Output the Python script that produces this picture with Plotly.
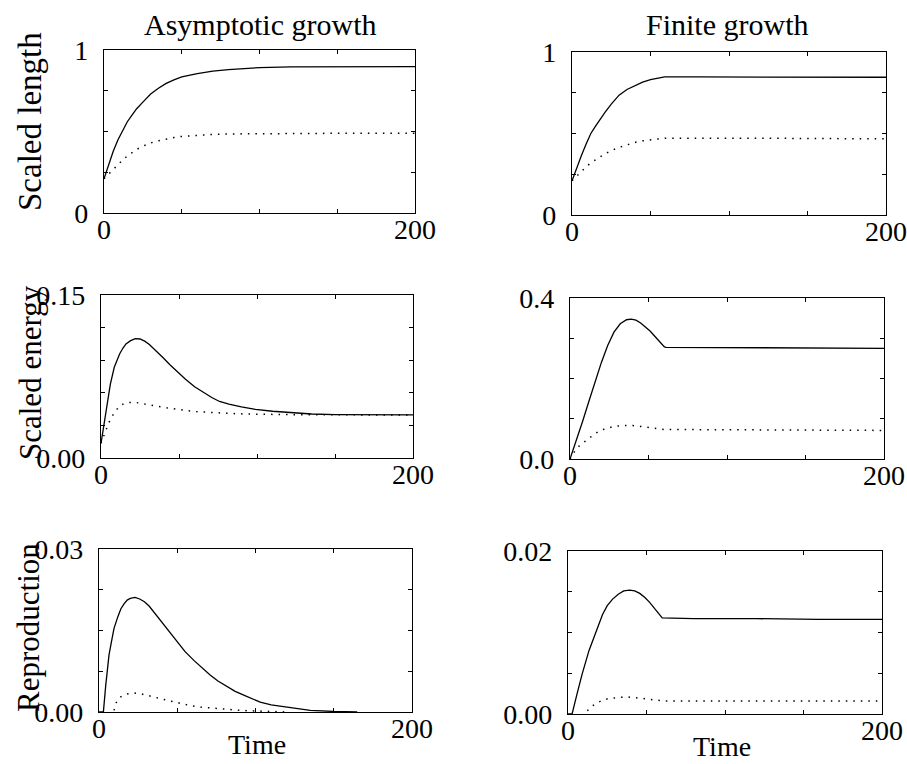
import plotly.graph_objects as go

# ---------------- data ----------------
# Row 1: Scaled length
t_len_asym = [0, 3, 6, 9, 12, 15, 18, 21, 25, 30, 35, 40, 45, 50, 60, 70, 80, 90, 100, 120, 150, 200]
len_asym_solid = [0.21, 0.30, 0.38, 0.45, 0.51, 0.56, 0.60, 0.64, 0.68, 0.73, 0.765, 0.795, 0.817, 0.835,
                  0.855, 0.870, 0.880, 0.887, 0.892, 0.896, 0.898, 0.898]
t_len_asym_dot = [0, 3, 6, 9, 12, 15, 18, 21, 25, 30, 35, 40, 45, 50, 60, 70, 80, 100, 120, 150, 200]
len_asym_dot = [0.21, 0.24, 0.27, 0.30, 0.325, 0.35, 0.37, 0.39, 0.41, 0.43, 0.443, 0.455, 0.463, 0.47,
                0.477, 0.482, 0.485, 0.487, 0.488, 0.489, 0.489]

t_len_fin = [0, 3, 6, 9, 12, 15, 18, 21, 25, 30, 35, 40, 45, 50, 55, 59, 80, 120, 160, 200]
len_fin_solid = [0.21, 0.29, 0.365, 0.435, 0.50, 0.545, 0.59, 0.63, 0.68, 0.735, 0.77, 0.795, 0.815, 0.83,
                 0.84, 0.847, 0.847, 0.846, 0.846, 0.845]
t_len_fin_dot = [0, 3, 6, 9, 12, 15, 18, 21, 25, 30, 35, 40, 45, 50, 55, 60, 80, 120, 160, 200]
len_fin_dot = [0.21, 0.24, 0.27, 0.295, 0.32, 0.34, 0.36, 0.375, 0.395, 0.415, 0.43, 0.445, 0.455, 0.462,
               0.467, 0.471, 0.472, 0.471, 0.469, 0.467]

# Row 2: Scaled energy
t_en_asym = [0, 2, 4, 6, 8.5, 10, 12, 14, 16, 19, 22, 25, 28, 31, 34, 37, 40, 44, 48, 54, 60, 65, 71, 76,
             82, 90, 99, 110, 120, 135, 150, 175, 200]
en_asym_solid = [0.0135, 0.031, 0.051, 0.068, 0.0835, 0.089, 0.096, 0.101, 0.105, 0.108, 0.1098, 0.1095,
                 0.1075, 0.1045, 0.1005, 0.0965, 0.092, 0.086, 0.0804, 0.0727, 0.0655, 0.061, 0.0557, 0.052,
                 0.0495, 0.047, 0.0448, 0.043, 0.0418, 0.0405, 0.0400, 0.0397, 0.0396]
t_en_asym_dot = [0, 2, 5, 8.5, 12, 15, 18, 22, 28, 35, 42, 48, 55, 61, 70, 82, 95, 110, 130, 160, 200]
en_asym_dot = [0.0135, 0.0216, 0.0325, 0.0418, 0.048, 0.0502, 0.051, 0.0512, 0.050, 0.048, 0.0463, 0.0448,
               0.0436, 0.0427, 0.0418, 0.041, 0.0404, 0.040, 0.0398, 0.0397, 0.0396]

t_en_fin = [0, 4, 8, 12, 16, 20, 24, 28, 32, 36, 39, 42, 45, 48, 51, 54, 57, 60, 61, 80, 120, 160, 200]
en_fin_solid = [0.0, 0.045, 0.093, 0.143, 0.192, 0.24, 0.282, 0.315, 0.336, 0.346, 0.3475, 0.345, 0.338,
                0.329, 0.318, 0.305, 0.291, 0.279, 0.2775, 0.277, 0.2765, 0.276, 0.275]
t_en_fin_dot = [0, 3.3, 6, 10, 13, 16, 20, 24, 28, 34, 40, 45, 50, 55, 60, 80, 120, 160, 200]
en_fin_dot = [0.0, 0.021, 0.033, 0.045, 0.055, 0.063, 0.072, 0.077, 0.081, 0.083, 0.083, 0.081, 0.078,
              0.075, 0.073, 0.073, 0.072, 0.072, 0.071]

# Row 3: Reproduction
t_rep_asym = [0, 2.8, 4.3, 5.5, 6.4, 8, 9.6, 12, 14, 16, 18, 20, 23, 26, 29, 32, 35, 38, 41.5, 45, 50, 55,
              60.6, 66, 71, 76, 82, 87, 92.5, 98, 103, 110, 120, 135, 150, 165]
rep_asym_solid = [0.0, 0.0, 0.0049, 0.0085, 0.0105, 0.013, 0.0154, 0.0175, 0.019, 0.0199, 0.0206, 0.0209,
                  0.0211, 0.0208, 0.0203, 0.0195, 0.0184, 0.0173, 0.016, 0.0147, 0.0129, 0.0111, 0.0095,
                  0.008, 0.0068, 0.0057, 0.0046, 0.0038, 0.0031, 0.0024, 0.0018, 0.0013, 0.0009, 0.0003,
                  0.0001, 0.0]
t_rep_asym_dot = [9.6, 11, 12.5, 15, 18, 22, 26, 31, 36, 41.5, 47, 52, 58, 65, 73, 82, 90, 99, 120]
rep_asym_dot = [0.0003, 0.0017, 0.0025, 0.003, 0.0033, 0.0035, 0.0034, 0.0031, 0.0027, 0.0023, 0.0019,
                0.0015, 0.0012, 0.0009, 0.0007, 0.0005, 0.0003, 0.0002, 0.0]

t_rep_fin = [0, 2.6, 5.8, 9, 13.4, 17.7, 22, 25, 28.4, 32, 35.5, 39.2, 42.5, 45.7, 49, 52, 56.5, 60, 80,
             120, 160, 200]
rep_fin_solid = [0.0, 0.0, 0.0025, 0.0049, 0.0078, 0.0101, 0.0122, 0.0133, 0.0141, 0.0147, 0.0151, 0.0152,
                 0.0151, 0.0148, 0.0143, 0.0137, 0.0127, 0.0118, 0.0117, 0.0117, 0.0116, 0.0116]
t_rep_fin_dot = [12.3, 15.5, 19, 22, 26, 31, 37, 43, 48, 54, 61, 80, 120, 160, 200]
rep_fin_dot = [0.0004, 0.001, 0.0014, 0.0017, 0.0019, 0.002, 0.0021, 0.002, 0.0019, 0.0017, 0.0016,
               0.0016, 0.0016, 0.0016, 0.0016]

x_ticks = [0, 50, 100, 150, 200]
x_ticktext = ["0", "", "", "", "200"]

y_ticks = {
    "len": ([0, 0.25, 0.5, 0.75, 1.0], ["0", "", "", "", "1"], [0, 1]),
    "en_a": ([0, 0.03, 0.06, 0.09, 0.12, 0.15], ["0.00", "", "", "", "", "0.15"], [0, 0.15]),
    "en_f": ([0, 0.1, 0.2, 0.3, 0.4], ["0.0", "", "", "", "0.4"], [0, 0.4]),
    "rep_a": ([0, 0.0075, 0.015, 0.0225, 0.03], ["0.00", "", "", "", "0.03"], [0, 0.03]),
    "rep_f": ([0, 0.005, 0.01, 0.015, 0.02], ["0.00", "", "", "", "0.02"], [0, 0.02]),
}

col_titles = ["Asymptotic growth", "Finite growth"]
row_titles = ["Scaled length", "Scaled energy", "Reproduction"]
x_title = "Time"

# ---------------- layout helpers ----------------
W, H = 907, 764
FONT = "Liberation Serif, Times New Roman, serif"

# panel boxes in pixels: (left, right, top, bottom)
boxes = [
    (104, 415, 50, 213), (572, 886, 52, 215),
    (101, 413, 295, 458), (570, 884, 298, 459),
    (99, 412, 549, 712), (568, 882, 551, 714),
]
panel_y = ["len", "len", "en_a", "en_f", "rep_a", "rep_f"]

panels = [
    [(t_len_asym, len_asym_solid, "solid"), (t_len_asym_dot, len_asym_dot, "dot")],
    [(t_len_fin, len_fin_solid, "solid"), (t_len_fin_dot, len_fin_dot, "dot")],
    [(t_en_asym, en_asym_solid, "solid"), (t_en_asym_dot, en_asym_dot, "dot")],
    [(t_en_fin, en_fin_solid, "solid"), (t_en_fin_dot, en_fin_dot, "dot")],
    [(t_rep_asym, rep_asym_solid, "solid"), (t_rep_asym_dot, rep_asym_dot, "dot")],
    [(t_rep_fin, rep_fin_solid, "solid"), (t_rep_fin_dot, rep_fin_dot, "dot")],
]

fig = go.Figure()
layout = dict(
    width=W, height=H,
    margin=dict(l=0, r=0, t=0, b=0),
    paper_bgcolor="white", plot_bgcolor="white",
    showlegend=False,
    font=dict(family=FONT, size=28, color="black"),
)

for i, (box, key, series) in enumerate(zip(boxes, panel_y, panels)):
    n = i + 1
    xa = "x" if n == 1 else f"x{n}"
    ya = "y" if n == 1 else f"y{n}"
    l, r, t, b = box
    tv, tt, rng = y_ticks[key]
    common = dict(
        showline=True, linecolor="black", linewidth=1.2, mirror="ticks",
        ticks="inside", ticklen=4, tickwidth=1, tickcolor="black",
        showgrid=False, zeroline=False, automargin=False,
        tickfont=dict(family=FONT, size=28, color="black"),
    )
    layout["xaxis" if n == 1 else f"xaxis{n}"] = dict(
        domain=[l / W, r / W], anchor=ya, range=[0, 200],
        tickmode="array", tickvals=x_ticks, ticktext=x_ticktext,
        ticklabelstandoff=-9, **common,
    )
    layout["yaxis" if n == 1 else f"yaxis{n}"] = dict(
        domain=[1 - b / H, 1 - t / H], anchor=xa, range=rng,
        tickmode="array", tickvals=tv, ticktext=tt,
        ticklabelstandoff=9, **common,
    )
    for (tx, vy, style) in series:
        if style == "solid":
            line = dict(color="black", width=1.3)
        else:
            line = dict(color="black", width=1.5, dash="1.5px,6px")
        fig.add_trace(go.Scatter(x=tx, y=vy, mode="lines", line=line,
                                 xaxis=xa, yaxis=ya, cliponaxis=True,
                                 hoverinfo="skip"))

ann = []
ann.append(dict(text=col_titles[0], x=260 / W, y=1 - 25 / H, size=30, angle=0))
ann.append(dict(text=col_titles[1], x=727 / W, y=1 - 25 / H, size=30, angle=0))
ann.append(dict(text=row_titles[0], x=30 / W, y=1 - 122 / H, size=33, angle=-90))
ann.append(dict(text=row_titles[1], x=30 / W, y=1 - 373 / H, size=31, angle=-90))
ann.append(dict(text=row_titles[2], x=28 / W, y=1 - 628 / H, size=31, angle=-90))
ann.append(dict(text=x_title, x=257 / W, y=1 - 744 / H, size=28, angle=0))
ann.append(dict(text=x_title, x=722 / W, y=1 - 746 / H, size=28, angle=0))
annotations = []
for a in ann:
    annotations.append(dict(
        text=a["text"], x=a["x"], y=a["y"], textangle=a["angle"],
        xref="paper", yref="paper", showarrow=False,
        xanchor="center", yanchor="middle", borderpad=0,
        font=dict(family=FONT, size=a["size"], color="black")))
layout["annotations"] = annotations

fig.update_layout(**layout)
fig.write_html("out.html")
